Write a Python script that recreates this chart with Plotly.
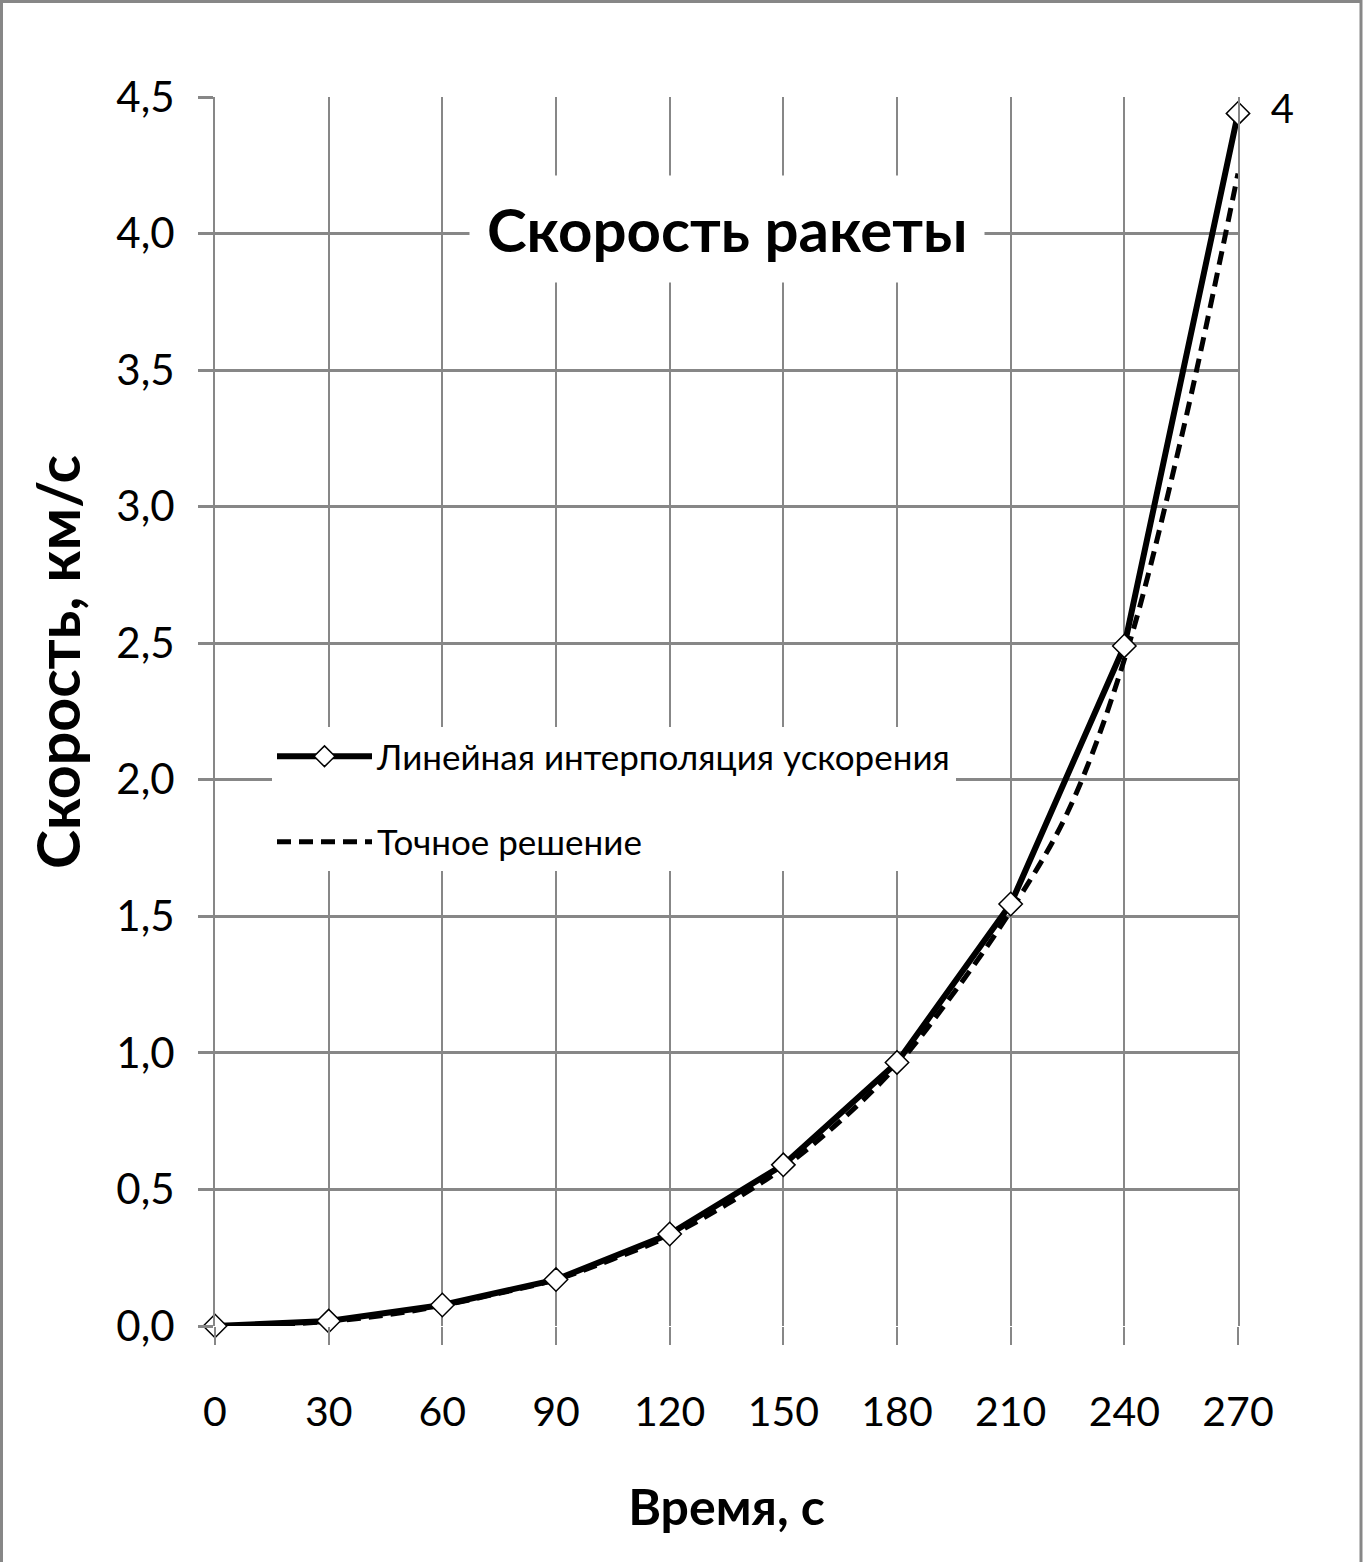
import plotly.graph_objects as go

# время, с
t_nodes = [0, 30, 60, 90, 120, 150, 180, 210, 240, 270]
# линейная интерполяция ускорения, км/с
v_interp = [0.0, 0.018, 0.077, 0.17, 0.337, 0.59, 0.965, 1.545, 2.49, 4.44]
v_labels = ["", "", "", "", "", "", "", "", "", "4"]

# точное решение
t_exact = [0, 15, 30, 45, 60, 75, 90, 105, 120, 135, 150, 165, 180, 195, 210, 225, 240, 255, 270]
v_exact = [0.0, 0.004, 0.017, 0.04, 0.075, 0.12, 0.17, 0.245, 0.33, 0.445, 0.58, 0.75,
           0.955, 1.22, 1.52, 1.88, 2.44, 3.25, 4.22]

x_ticks = [0, 30, 60, 90, 120, 150, 180, 210, 240, 270]
y_ticks = [0, 0.5, 1.0, 1.5, 2.0, 2.5, 3.0, 3.5, 4.0, 4.5]

W, H = 1363, 1562
ML, MR, MT, MB = 215, 125, 97, 236
PW, PH = W - ML - MR, H - MT - MB

FONT = "Lato, Roboto, sans-serif"
GRID = "#878787"


def px_x(p):
    return (p - ML) / PW


def px_y(p):
    return (MT + PH - p) / PH


fig = go.Figure()

fig.add_trace(go.Scatter(
    x=t_exact, y=v_exact, mode="lines", name="Точное решение",
    line=dict(color="black", width=5, dash="14px,8px", shape="spline"),
    legendgroup="b", legendrank=2, cliponaxis=False,
))
fig.add_trace(go.Scatter(
    x=t_nodes, y=v_interp, mode="lines+markers+text", name="Линейная интерполяция ускорения",
    line=dict(color="black", width=6),
    marker=dict(symbol="diamond", size=18, color="white", line=dict(color="black", width=1.5)),
    text=v_labels, texttemplate="  %{text}", textposition="middle right",
    textfont=dict(family=FONT, size=40, color="black"),
    legendgroup="a", legendrank=1, cliponaxis=False,
))

# заголовок на белой подложке внутри области построения
fig.add_annotation(
    text="<b>Скорость ракеты</b>", xref="paper", yref="paper",
    x=px_x(727), y=px_y(229), xanchor="center", yanchor="middle",
    showarrow=False, font=dict(family=FONT, size=60, color="black"),
    bgcolor="white", borderpad=17,
)

# подпись оси Y (смещена вверх, как в оригинале)
fig.add_annotation(
    text="<b>Скорость, км/с</b>", xref="paper", yref="paper",
    x=px_x(57), y=px_y(662), xanchor="center", yanchor="middle", textangle=-90,
    showarrow=False, font=dict(family=FONT, size=59, color="black"),
)

# рамка вокруг диаграммы
fig.add_shape(
    type="rect", xref="paper", yref="paper",
    x0=px_x(1.5), x1=px_x(W - 2),
    y0=px_y(H + 20), y1=px_y(1.5),
    line=dict(color=GRID, width=3), layer="above",
)

fig.update_xaxes(
    range=[0, 270], tickvals=x_ticks, showgrid=True, gridcolor=GRID, gridwidth=2,
    zeroline=False, showline=False,
    ticks="outside", ticklen=18, tickwidth=2, tickcolor=GRID, ticklabelstandoff=32,
    tickfont=dict(family=FONT, size=41, color="black"),
    title=dict(text="<b>Время, с</b>", font=dict(family=FONT, size=50, color="black"), standoff=55),
)
fig.update_yaxes(
    range=[0, 4.5], tickvals=y_ticks, tickformat=".1f", showgrid=True, gridcolor=GRID, gridwidth=3,
    zeroline=False, showline=True, mirror=True, linecolor=GRID, linewidth=2,
    ticks="outside", ticklen=15, tickwidth=3, tickcolor=GRID, ticklabelstandoff=15,
    tickfont=dict(family=FONT, size=42, color="black"),
)

fig.update_layout(
    width=W, height=H, margin=dict(l=ML, r=MR, t=MT, b=MB),
    paper_bgcolor="white", plot_bgcolor="white",
    separators=", ",
    showlegend=True,
    legend=dict(
        x=px_x(272), y=px_y(727), xanchor="left", yanchor="top",
        bgcolor="white", font=dict(family=FONT, size=35, color="black"),
        itemwidth=95, traceorder="grouped", tracegroupgap=37,
    ),
)

fig.write_html("out.html", config={"displayModeBar": False},
               post_script="document.body.style.margin = '0';")
